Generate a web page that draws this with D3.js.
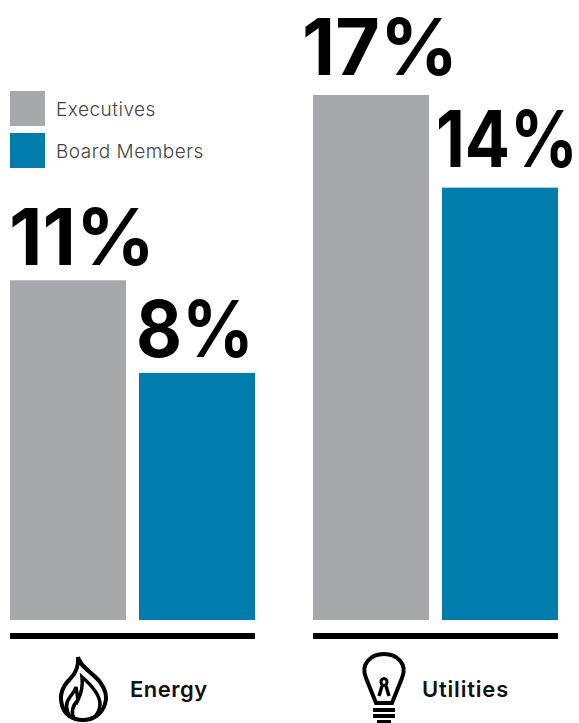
<!DOCTYPE html>
<html>
<head>
<meta charset="utf-8">
<script src="https://cdn.jsdelivr.net/npm/d3@7/dist/d3.min.js"></script>
<style>
html,body{margin:0;padding:0;background:#fff}
svg{display:block}
</style>
</head>
<body>
<svg id="chart" width="579" height="723"></svg>
<script>
const sectors = ["Energy", "Utilities"];
const roles = ["Executives", "Board Members"];
const executives = [11, 17];
const boardMembers = [8, 14];
const roleColors = ["#a7a8ac", "#007dac"];
const textFont = "Inter, 'Noto Sans', sans-serif";

const svg = d3.select("#chart");
const baseline = 620;

const y = d3.scaleLinear().domain([0, 17]).range([baseline, 95]);
const groupX = d3.scaleOrdinal().domain(sectors).range([10, 313]);
const barX = d3.scaleBand().domain(roles).range([0, 245]).paddingInner(0.1);
// Per-label placement of the value figures relative to their bars
const labelShift = [[-1, -3], [-11, -6]];
const labelRise = [[15, 16], [20, 21]];
const labelFit = [[146, 118], [156, 142]];

sectors.forEach((sector, i) => {
  const g = svg.append("g").attr("transform", `translate(${groupX(sector)},0)`);
  const vals = [executives[i], boardMembers[i]];
  roles.forEach((role, j) => {
    g.append("rect")
      .attr("x", barX(role)).attr("y", y(vals[j]))
      .attr("width", barX.bandwidth()).attr("height", baseline - y(vals[j]))
      .attr("fill", roleColors[j]);
    g.append("text")
      .attr("x", barX(role) + labelShift[i][j])
      .attr("y", y(vals[j]) - labelRise[i][j])
      .attr("font-family", textFont).attr("font-weight", 700)
      .attr("font-size", 78)
      .attr("textLength", labelFit[i][j]).attr("lengthAdjust", "spacingAndGlyphs")
      .attr("fill", "#000")
      .text(vals[j] + "%");
  });
  g.append("line")
    .attr("x1", 0).attr("x2", 245).attr("y1", 636).attr("y2", 636)
    .attr("stroke", "#000").attr("stroke-width", 6);
  g.append("text")
    .attr("x", i === 0 ? 120 : 109).attr("y", 697)
    .attr("font-family", textFont).attr("font-weight", 600)
    .attr("font-size", 22).attr("letter-spacing", i === 0 ? 0.5 : 0.8).attr("fill", "#111")
    .text(sector);
});

const legend = svg.append("g");
roles.forEach((role, j) => {
  const ly = 91 + j * 42;
  legend.append("rect").attr("x", 10).attr("y", ly).attr("width", 35).attr("height", 35).attr("fill", roleColors[j]);
  legend.append("text").attr("x", 56).attr("y", ly + 25)
    .attr("font-family", textFont).attr("font-weight", 300).attr("font-size", 19).attr("letter-spacing", 0.5)
    .attr("fill", "#444").text(role);
});

// Flame pictogram beside the Energy label
const flame = svg.append("g").attr("fill", "none").attr("stroke", "#000").attr("stroke-width", 4).attr("stroke-linejoin", "miter");
flame.append("path").attr("d", "M78 657 C80 667 92 672 100 682 C106 690 107 698 105 704 C102 714 93 720 83 720 C72 720 64 714 62 705 C59 695 63 686 70 679 C76 673 79 667 78 657 Z");
flame.append("path").attr("stroke-width", 3.5).attr("d", "M70 717 C65 709 66 702 70 697 C73 693 75 691 76 687 L78 700 C81 694 83 686 82 677 C90 684 100 694 100 704 C100 709 98 713 95 717");
flame.append("path").attr("stroke-width", 3.5).attr("d", "M78 700 C72 706 71 713 74 718");

// Light bulb pictogram beside the Utilities label
const bulb = svg.append("g").attr("fill", "none").attr("stroke", "#000").attr("stroke-width", 4);
bulb.append("path").attr("d", "M376 703 L366 678 C360 664 371 654 384 654 C397 654 408 664 402 678 L392 703 Z");
bulb.append("ellipse").attr("cx", 384).attr("cy", 682).attr("rx", 3).attr("ry", 3.5).attr("stroke-width", 3);
bulb.append("path").attr("d", "M382 686 L379 696 M386 686 L389 696").attr("stroke-width", 3.5);
[710, 716, 722].forEach((ly, k) => {
  bulb.append("line").attr("x1", k === 2 ? 377 : 373).attr("x2", k === 2 ? 391 : 395).attr("y1", ly).attr("y2", ly);
});
</script>
</body>
</html>
